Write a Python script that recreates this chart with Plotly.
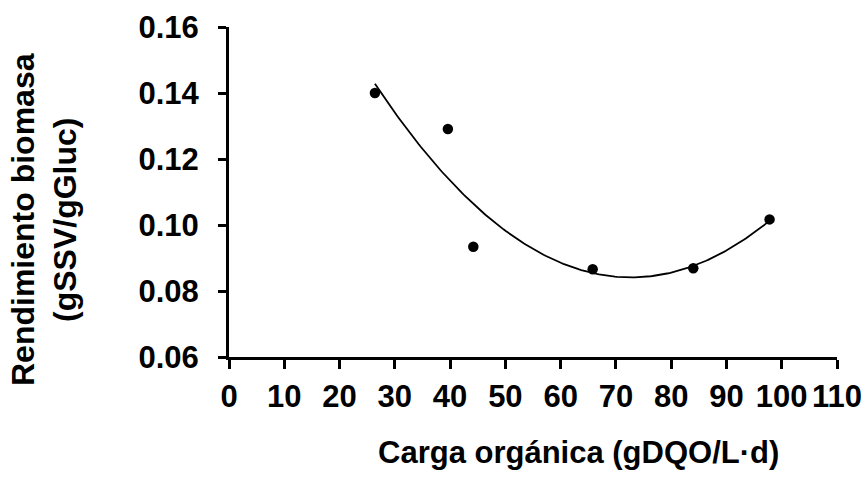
import numpy as np
import plotly.graph_objects as go

carga = [26.4, 39.6, 44.2, 65.8, 84.0, 97.8]
rendimiento = [0.1400, 0.1291, 0.0934, 0.0866, 0.0869, 0.1017]
x_ticks = [0, 10, 20, 30, 40, 50, 60, 70, 80, 90, 100, 110]
y_ticks = [0.06, 0.08, 0.10, 0.12, 0.14, 0.16]

# second-order polynomial trendline through the measured points
coef = np.polyfit(carga, rendimiento, 2)
xf = np.linspace(min(carga), max(carga), 200)
yf = np.polyval(coef, xf)

FONT = "Liberation Sans, Arial, sans-serif"
L, R, T, B = 229, 30, 27, 120
PW, PH = 867 - L - R, 477 - T - B

fig = go.Figure()
fig.add_trace(go.Scatter(x=xf, y=yf, mode="lines",
                         line=dict(color="black", width=1.8), hoverinfo="skip"))
fig.add_trace(go.Scatter(x=carga, y=rendimiento, mode="markers",
                         marker=dict(symbol="circle", size=10.5, color="black")))

fig.update_layout(
    width=867, height=477,
    margin=dict(l=L, r=R, t=T, b=B, autoexpand=False),
    paper_bgcolor="white", plot_bgcolor="white",
    showlegend=False,
    font=dict(family=FONT, size=31, color="black"),
    xaxis=dict(range=[0, 110], tickvals=x_ticks, ticktext=[str(v) for v in x_ticks],
               showgrid=False, zeroline=False, showline=True, linecolor="black",
               linewidth=3, ticks="outside", ticklen=9, tickwidth=3, tickcolor="black",
               ticklabelstandoff=1, automargin=False,
               tickfont=dict(family=FONT, size=31, color="black", weight="bold")),
    yaxis=dict(range=[0.06, 0.16], tickvals=y_ticks, ticktext=[f"{v:.2f}" for v in y_ticks],
               showgrid=False, zeroline=False, showline=True, linecolor="black",
               linewidth=3, ticks="outside", ticklen=8, tickwidth=3, tickcolor="black",
               ticklabelstandoff=13, automargin=False,
               tickfont=dict(family=FONT, size=31, color="black", weight="bold")),
)

fig.add_annotation(text="<b>Carga orgánica (gDQO/L·d)</b>", xref="paper", yref="paper",
                   x=(578 - L) / PW, y=-(452 - (477 - B)) / PH, xanchor="center", yanchor="middle",
                   showarrow=False, font=dict(family=FONT, size=31, color="black"))
fig.add_annotation(text="<b>Rendimiento biomasa</b><br><b>(gSSV/gGluc)</b>", xref="paper", yref="paper",
                   x=-(L - 44) / PW, y=((477 - B) - 220) / PH, xanchor="center", yanchor="middle",
                   textangle=-90, showarrow=False,
                   font=dict(family=FONT, size=32, color="black"))

fig.write_html("out.html", config={"displayModeBar": False})

# remove the browser's default 8px body margin so the figure sits at the page corner
with open("out.html", "r", encoding="utf-8") as f:
    html = f.read()
html = html.replace("<body>", '<body style="margin:0;padding:0;overflow:hidden">', 1)
with open("out.html", "w", encoding="utf-8") as f:
    f.write(html)
